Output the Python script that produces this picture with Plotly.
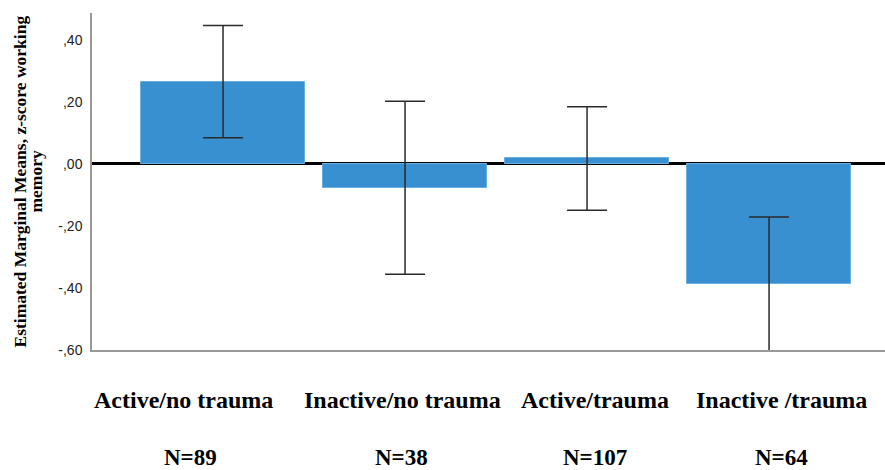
import plotly.graph_objects as go

categories = ["Active/no trauma", "Inactive/no trauma", "Active/trauma", "Inactive /trauma"]
n_labels = ["N=89", "N=38", "N=107", "N=64"]
means = [0.266, -0.077, 0.018, -0.387]
ci_half = [0.181, 0.279, 0.167, 0.216]
tick_vals = [-0.6, -0.4, -0.2, 0.0, 0.2, 0.4]
tick_text = ["-,60", "-,40", "-,20", ",00", ",20", ",40"]
title_lines = ["Estimated Marginal Means, z-score working", "memory"]
label_shift = [-40, -3, 8, 12]
n_shift = [-33, -4, 8, 12]

serif = "Liberation Serif, Times New Roman, serif"
sans = "Liberation Sans, Arial, sans-serif"

fig = go.Figure()
fig.add_trace(go.Bar(
    x=list(range(len(categories))),
    y=means,
    width=0.9,
    marker=dict(color="#3990d0", line=dict(color="#6aaee0", width=1)),
    error_y=dict(type="data", array=ci_half, symmetric=True,
                 color="#2a2a2a", thickness=1.5, width=20),
    hovertext=categories,
    showlegend=False,
))

annotations = []
for i, (c, n) in enumerate(zip(categories, n_labels)):
    annotations.append(dict(x=i, y=0, xref="x", yref="paper", text=c,
                            showarrow=False, xanchor="center", yanchor="middle",
                            xshift=label_shift[i], yshift=-50,
                            font=dict(family=serif, size=24, color="black", weight="bold")))
    annotations.append(dict(x=i, y=0, xref="x", yref="paper", text=n,
                            showarrow=False, xanchor="center", yanchor="middle",
                            xshift=n_shift[i], yshift=-107,
                            font=dict(family=serif, size=23, color="black", weight="bold")))
for j, (line, xs) in enumerate(zip(title_lines, [-73, -57])):
    annotations.append(dict(x=0, y=0.5, xref="paper", yref="paper",
                            text=line, textangle=-90, showarrow=False,
                            xanchor="center", yanchor="middle", xshift=xs,
                            font=dict(family=serif, size=17.5, color="black", weight="bold")))

fig.update_layout(
    width=885, height=470,
    margin=dict(l=92, r=0, t=13, b=120),
    plot_bgcolor="white", paper_bgcolor="white",
    annotations=annotations,
    bargap=0,
)
fig.update_xaxes(range=[-0.72, 3.637], showticklabels=False, ticks="",
                 showgrid=False, zeroline=False,
                 showline=True, linecolor="#999999", linewidth=1.5)
fig.update_yaxes(range=[-0.6, 0.487], tickvals=tick_vals, ticktext=tick_text,
                 tickfont=dict(family=sans, size=14, color="#222222"),
                 ticks="", ticklabelstandoff=5,
                 showgrid=False, zeroline=True, zerolinecolor="black", zerolinewidth=3,
                 showline=True, linecolor="#999999", linewidth=1.5)

fig.write_html("out.html", config={"displayModeBar": False},
               post_script="document.body.style.margin='0';document.body.style.overflow='hidden';")
